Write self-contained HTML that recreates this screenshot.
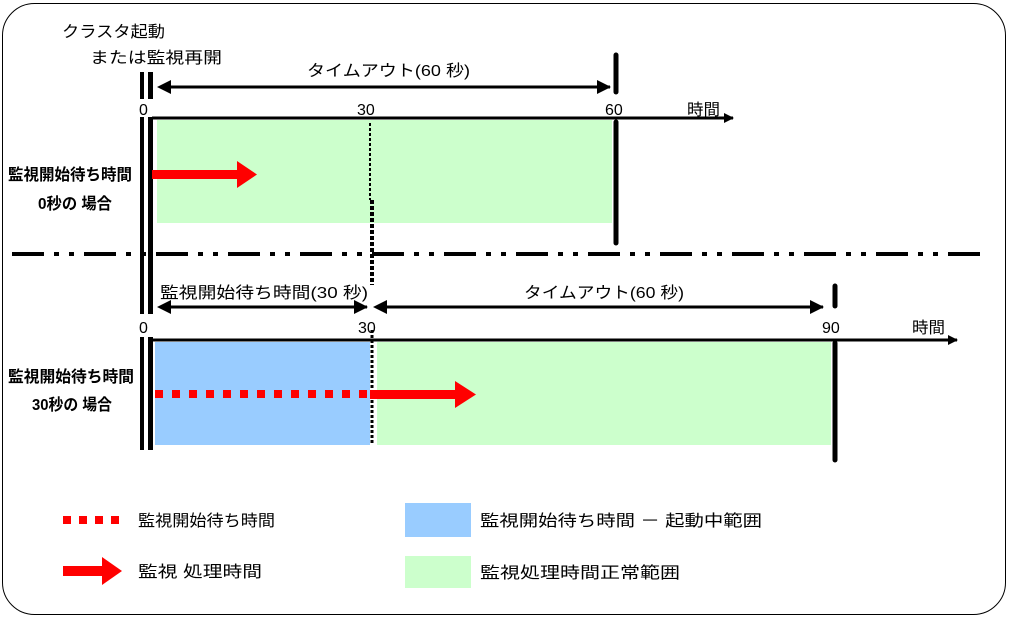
<!DOCTYPE html>
<html><head><meta charset="utf-8"><style>
html,body{margin:0;padding:0;background:#fff;}
svg{display:block;}
text{font-family:"Liberation Sans","Noto Sans CJK JP",sans-serif;font-size:16px;fill:#000;}
</style></head><body>
<svg width="1009" height="618" viewBox="0 0 1009 618" xmlns="http://www.w3.org/2000/svg">
<defs>
<marker id="ah" markerWidth="10" markerHeight="10" refX="9" refY="5" orient="auto" markerUnits="userSpaceOnUse"><path d="M0,0 L10,5 L0,10 z" fill="#000"/></marker>
<marker id="ah2" markerWidth="14" markerHeight="14" refX="13" refY="7" orient="auto" markerUnits="userSpaceOnUse"><path d="M0,0 L14,7 L0,14 z" fill="#000"/></marker>
</defs>
<rect x="2.5" y="3.5" width="1003" height="611" rx="32" fill="#fff" stroke="#000" stroke-width="1"/>

<rect x="157" y="120" width="455" height="103" fill="#ccffcc"/>
<rect x="155" y="342" width="215" height="103" fill="#99ccff"/>
<rect x="377" y="342" width="454" height="103" fill="#ccffcc"/>

<text x="62" y="37" textLength="103" lengthAdjust="spacingAndGlyphs">クラスタ起動</text>
<text x="90" y="63" textLength="132" lengthAdjust="spacingAndGlyphs">または監視再開</text>
<text x="307" y="76" textLength="163" lengthAdjust="spacingAndGlyphs">タイムアウト(60 秒)</text>

<rect x="140" y="72" width="4" height="378" fill="#000"/>
<rect x="148" y="72" width="5" height="378" fill="#000"/>
<rect x="138" y="99" width="18" height="18" fill="#fff"/>
<rect x="138" y="314" width="18" height="23" fill="#fff"/>
<text x="139" y="115">0</text>
<text x="139" y="333">0</text>

<line x1="170" y1="87" x2="610" y2="87" stroke="#000" stroke-width="3" marker-end="url(#ah2)"/>
<path d="M157,87 L171,80 L171,94 z" fill="#000"/>
<line x1="152" y1="118" x2="733" y2="118" stroke="#000" stroke-width="3" marker-end="url(#ah)"/>
<line x1="616" y1="55" x2="616" y2="92" stroke="#000" stroke-width="5" stroke-linecap="round"/>
<line x1="616" y1="122" x2="616" y2="243" stroke="#000" stroke-width="5" stroke-linecap="round"/>
<text x="357" y="115">30</text>
<text x="605" y="115">60</text>
<text x="687" y="115" textLength="33" lengthAdjust="spacingAndGlyphs">時間</text>
<line x1="370" y1="123" x2="370" y2="200" stroke="#000" stroke-width="2" stroke-dasharray="3,2"/>
<line x1="372" y1="200" x2="372" y2="285" stroke="#000" stroke-width="4" stroke-dasharray="4,2"/>
<rect x="152" y="170" width="86" height="9" fill="#f00"/>
<path d="M237,161 L257,174.5 L237,188 z" fill="#f00"/>

<line x1="12" y1="254" x2="985" y2="254" stroke="#000" stroke-width="4" stroke-dasharray="32,10,5,10,5,10"/>

<text x="8" y="180" style="font-weight:bold" textLength="124" lengthAdjust="spacingAndGlyphs">監視開始待ち時間</text>
<text x="38" y="209" style="font-weight:bold" textLength="74" lengthAdjust="spacingAndGlyphs">0秒の 場合</text>
<text x="8" y="382" style="font-weight:bold" textLength="126" lengthAdjust="spacingAndGlyphs">監視開始待ち時間</text>
<text x="32" y="410" style="font-weight:bold" textLength="80" lengthAdjust="spacingAndGlyphs">30秒の 場合</text>

<text x="160" y="298" textLength="208" lengthAdjust="spacingAndGlyphs">監視開始待ち時間(30 秒)</text>
<text x="524" y="298" textLength="160" lengthAdjust="spacingAndGlyphs">タイムアウト(60 秒)</text>
<line x1="170" y1="307" x2="367" y2="307" stroke="#000" stroke-width="3" marker-end="url(#ah2)"/>
<path d="M157,307 L171,300 L171,314 z" fill="#000"/>
<line x1="386" y1="307" x2="823" y2="307" stroke="#000" stroke-width="3" marker-end="url(#ah2)"/>
<path d="M373,307 L387,300 L387,314 z" fill="#000"/>
<line x1="152" y1="340" x2="957" y2="340" stroke="#000" stroke-width="3" marker-end="url(#ah)"/>
<line x1="835" y1="286" x2="835" y2="306" stroke="#000" stroke-width="5" stroke-linecap="round"/>
<line x1="835" y1="343" x2="835" y2="460" stroke="#000" stroke-width="5" stroke-linecap="round"/>
<text x="358" y="333">30</text>
<text x="822" y="333">90</text>
<text x="912" y="333" textLength="33" lengthAdjust="spacingAndGlyphs">時間</text>
<line x1="372" y1="330" x2="372" y2="445" stroke="#000" stroke-width="3" stroke-dasharray="3,2"/>
<line x1="155" y1="394" x2="368" y2="394" stroke="#f00" stroke-width="8" stroke-dasharray="8,9"/>
<rect x="370" y="390" width="86" height="9" fill="#f00"/>
<path d="M455,381 L476,394.5 L455,408 z" fill="#f00"/>

<line x1="63" y1="520" x2="122" y2="520" stroke="#f00" stroke-width="8" stroke-dasharray="8,8"/>
<text x="138" y="526" textLength="137" lengthAdjust="spacingAndGlyphs">監視開始待ち時間</text>
<rect x="63" y="566" width="40" height="10" fill="#f00"/>
<path d="M102,557 L122,571 L102,585 z" fill="#f00"/>
<text x="138" y="577" textLength="124" lengthAdjust="spacingAndGlyphs">監視 処理時間</text>
<rect x="405" y="503" width="66" height="34" fill="#99ccff"/>
<text x="480" y="526" textLength="282" lengthAdjust="spacingAndGlyphs">監視開始待ち時間 － 起動中範囲</text>
<rect x="405" y="556" width="66" height="32" fill="#ccffcc"/>
<text x="480" y="578" textLength="200" lengthAdjust="spacingAndGlyphs">監視処理時間正常範囲</text>
</svg>
</body></html>
